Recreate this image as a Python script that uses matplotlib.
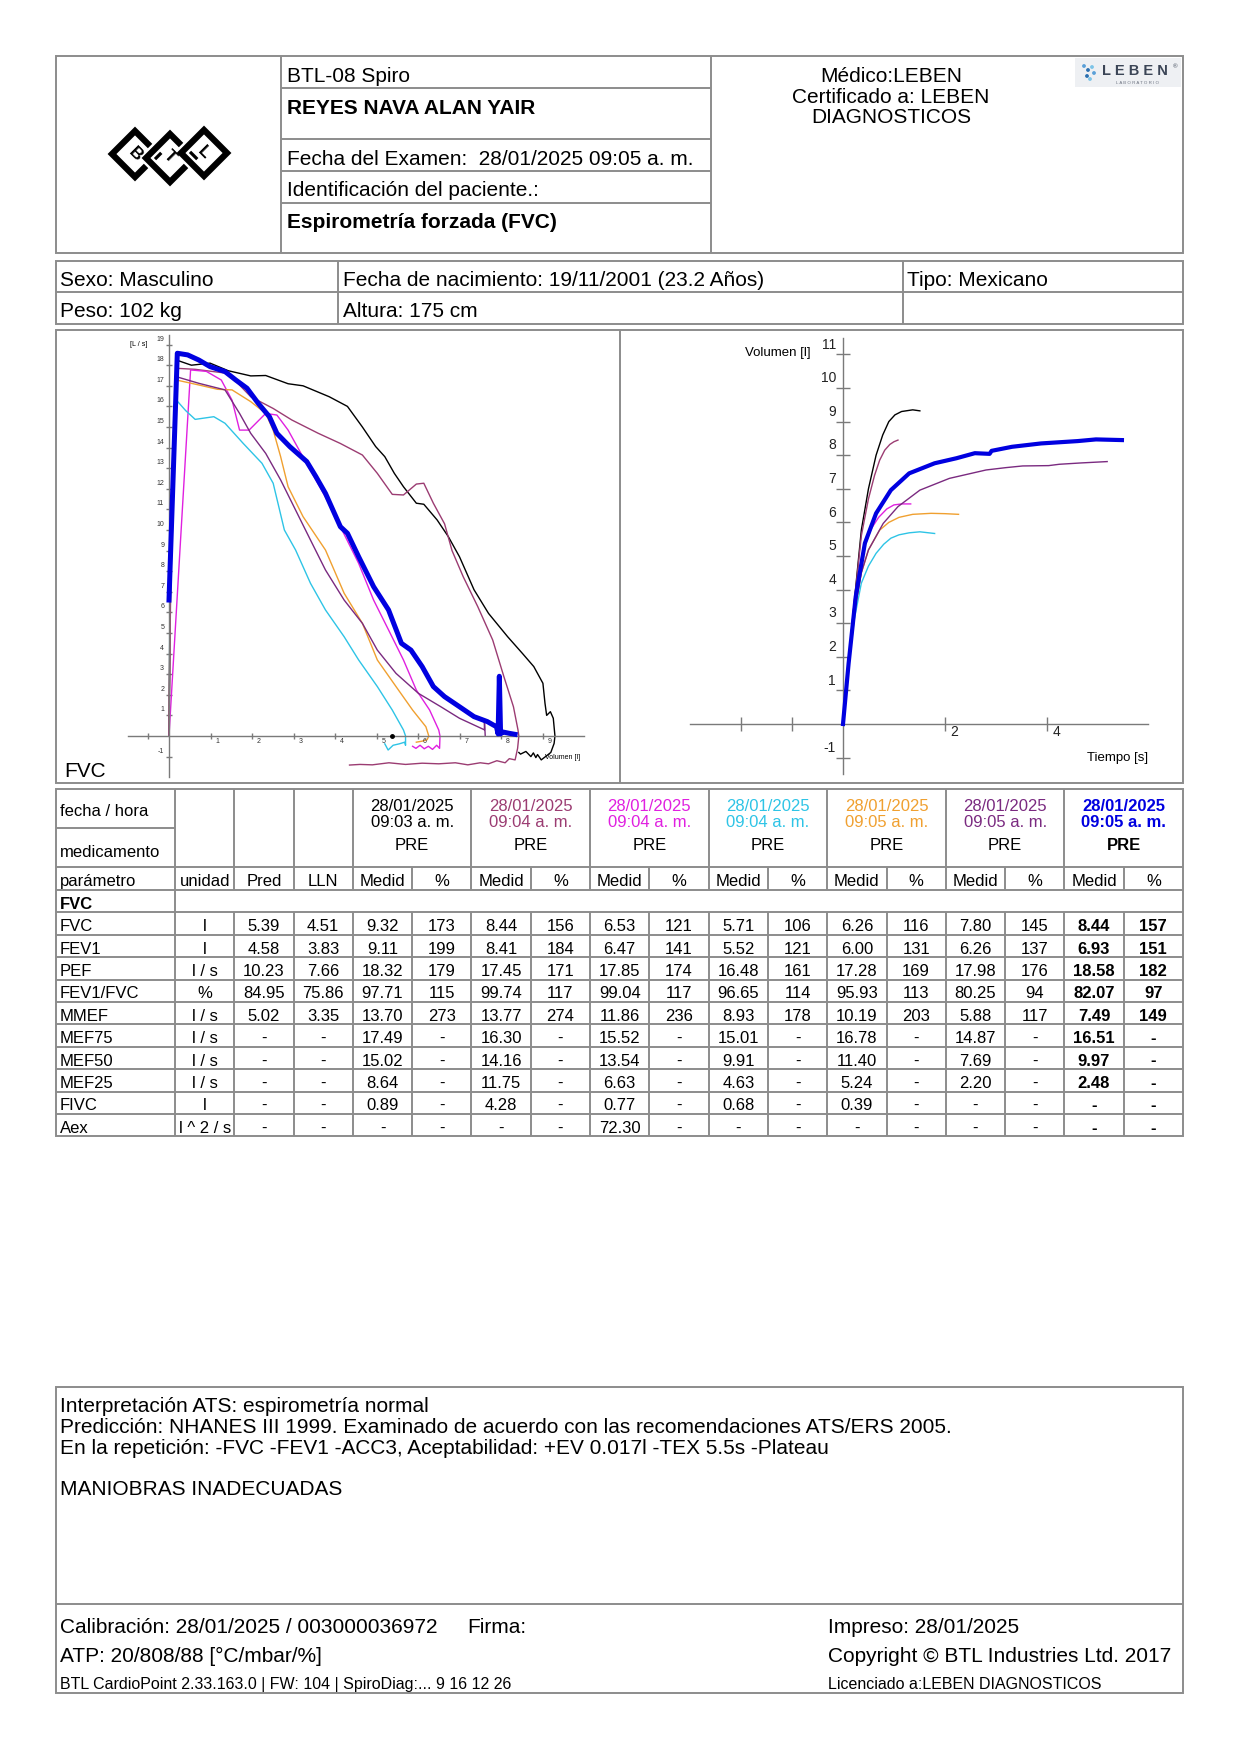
import matplotlib
matplotlib.use("Agg")
import matplotlib.pyplot as plt
from matplotlib.patches import Polygon, Rectangle

plt.rcParams['font.family'] = ['Liberation Sans', 'DejaVu Sans']

# ---------------- data ----------------
TRIAL_TIMES = ['09:03 a. m.', '09:04 a. m.', '09:04 a. m.', '09:04 a. m.',
               '09:05 a. m.', '09:05 a. m.', '09:05 a. m.']
TRIAL_COLORS = ['#000000', '#9b3c72', '#e020e0', '#2ec4e6', '#f0a030', '#7a2a80', '#0000e0']

PARAMS = ['FVC', 'FEV1', 'PEF', 'FEV1/FVC', 'MMEF', 'MEF75', 'MEF50', 'MEF25', 'FIVC', 'Aex']
UNITS = ['l', 'l', 'l / s', '%', 'l / s', 'l / s', 'l / s', 'l / s', 'l', 'l ^ 2 / s']
PRED = ['5.39', '4.58', '10.23', '84.95', '5.02', '-', '-', '-', '-', '-']
LLN = ['4.51', '3.83', '7.66', '75.86', '3.35', '-', '-', '-', '-', '-']

MEAS = [
    ['9.32', '9.11', '18.32', '97.71', '13.70', '17.49', '15.02', '8.64', '0.89', '-'],
    ['8.44', '8.41', '17.45', '99.74', '13.77', '16.30', '14.16', '11.75', '4.28', '-'],
    ['6.53', '6.47', '17.85', '99.04', '11.86', '15.52', '13.54', '6.63', '0.77', '72.30'],
    ['5.71', '5.52', '16.48', '96.65', '8.93', '15.01', '9.91', '4.63', '0.68', '-'],
    ['6.26', '6.00', '17.28', '95.93', '10.19', '16.78', '11.40', '5.24', '0.39', '-'],
    ['7.80', '6.26', '17.98', '80.25', '5.88', '14.87', '7.69', '2.20', '-', '-'],
    ['8.44', '6.93', '18.58', '82.07', '7.49', '16.51', '9.97', '2.48', '-', '-'],
]
PCT = [
    ['173', '199', '179', '115', '273', '-', '-', '-', '-', '-'],
    ['156', '184', '171', '117', '274', '-', '-', '-', '-', '-'],
    ['121', '141', '174', '117', '236', '-', '-', '-', '-', '-'],
    ['106', '121', '161', '114', '178', '-', '-', '-', '-', '-'],
    ['116', '131', '169', '113', '203', '-', '-', '-', '-', '-'],
    ['145', '137', '176', '94', '117', '-', '-', '-', '-', '-'],
    ['157', '151', '182', '97', '149', '-', '-', '-', '-', '-'],
]

# flow-volume loops: volume [l], flow [l/s]
FV_VOL = [
    [0, 0.05, 0.18, 0.54, 0.99, 1.43, 1.97, 2.33, 2.87, 3.23, 3.86, 4.30, 4.66, 4.98, 5.20, 5.43,
     5.65, 5.96, 6.14, 6.46, 6.73, 7.00, 7.35, 7.70, 8.16, 8.52, 8.79, 9.01, 9.06, 9.10, 9.19, 9.26,
     9.30, 9.28, 9.20, 8.97, 8.88, 8.84, 8.78, 8.72, 8.60, 8.47, 8.43],
    [0, 0.05, 0.18, 0.63, 1.43, 1.97, 2.51, 2.96, 3.59, 4.13, 4.66, 5.02, 5.38, 5.65, 5.96, 6.14,
     6.37, 6.64, 6.82, 7.09, 7.44, 7.80, 8.07, 8.30, 8.41, 8.43, 8.40, 8.34, 8.20, 8.10, 7.90, 7.70,
     7.50, 7.20, 6.90, 6.50, 6.10, 5.70, 5.30, 4.90, 4.60, 4.35],
    [0, 0.52, 0.90, 1.26, 1.52, 1.70, 1.93, 2.33, 2.60, 2.87, 3.18, 3.41, 3.77, 4.13, 4.57, 4.93,
     5.29, 5.65, 5.96, 6.28, 6.50, 6.53, 6.52, 6.45, 6.35, 6.25, 6.15, 6.05, 5.95, 5.87],
    [0, 0.02, 0.18, 0.40, 0.63, 1.08, 1.35, 1.79, 2.24, 2.51, 2.78, 3.05, 3.41, 3.77, 4.22, 4.57,
     5.02, 5.38, 5.65, 5.70, 5.70, 5.68, 5.55, 5.40, 5.28, 5.20],
    [0, 0.03, 0.18, 0.72, 1.17, 1.52, 1.97, 2.33, 2.51, 2.69, 2.87, 3.23, 3.77, 4.22, 4.66, 5.02,
     5.47, 5.87, 6.19, 6.26, 6.22, 6.10, 5.96],
    [0, 0.03, 0.18, 0.72, 1.35, 1.70, 1.97, 2.33, 2.69, 3.05, 3.41, 3.77, 4.22, 4.66, 5.02, 5.47,
     6.01, 6.55, 7.00, 7.44, 7.60, 7.60, 7.62],
    [0, 0.20, 0.45, 0.72, 0.99, 1.35, 1.61, 1.88, 2.15, 2.42, 2.60, 2.91, 3.32, 3.54, 3.77, 4.13,
     4.30, 4.57, 4.93, 5.29, 5.60, 5.83, 6.10, 6.37, 6.64, 7.00, 7.35, 7.67, 7.89, 7.93, 7.96, 7.99,
     8.03, 8.20, 8.34],
]
FV_FLOW = [
    [0, 10.0, 18.25, 18.0, 18.1, 17.73, 17.48, 17.5, 17.1, 17.0, 16.47, 16.0, 15.0, 14.05, 13.56, 12.75,
     12.1, 11.3, 11.25, 10.49, 9.68, 8.7, 7.1, 5.95, 4.82, 4.0, 3.37, 2.56, 1.59, 1.0, 1.18, 0.86,
     0.0, -0.36, -0.8, -1.16, -0.9, -1.05, -0.82, -1.0, -0.75, -0.88, -0.8],
    [0, 9.0, 17.85, 17.8, 17.6, 16.47, 15.9, 15.34, 14.7, 14.2, 13.64, 12.75, 11.73, 11.7, 12.23, 12.27,
     11.3, 10.3, 9.0, 7.73, 6.28, 4.66, 2.88, 1.42, 0.29, 0.0, -0.6, -1.16, -1.1, -1.3, -1.2, -1.35,
     -1.3, -1.4, -1.3, -1.35, -1.32, -1.38, -1.3, -1.4, -1.38, -1.41],
    [0, 17.77, 17.7, 17.28, 16.3, 14.85, 14.85, 15.66, 15.58, 14.85, 13.72, 12.9, 11.6, 10.16, 8.38, 6.6,
     5.15, 3.69, 2.23, 1.26, 0.29, 0.0, -0.6, -0.45, -0.65, -0.5, -0.62, -0.45, -0.6, -0.5],
    [0, 6.0, 16.3, 15.8, 15.37, 15.5, 15.18, 14.2, 13.24, 12.27, 10.0, 9.03, 7.41, 6.12, 4.82, 3.69,
     2.4, 1.26, 0.29, 0.0, -0.45, -0.3, -0.38, -0.45, -0.68, -0.38],
    [0, 8.0, 17.28, 17.04, 16.83, 16.8, 16.23, 15.66, 14.85, 13.56, 12.1, 10.65, 9.03, 6.93, 5.47, 3.69,
     2.4, 1.26, 0.45, 0.0, -0.18, -0.25, -0.3],
    [0, 8.0, 17.44, 17.12, 16.8, 15.66, 14.69, 13.72, 12.43, 10.97, 9.51, 8.06, 6.6, 5.47, 4.17, 3.04,
     2.07, 1.42, 0.86, 0.45, 0.3, 0.8, 0.0],
    [6.6, 18.58, 18.5, 18.25, 17.93, 17.69, 17.28, 16.88, 16.15, 15.5, 14.69, 14.05, 13.32, 12.59, 11.78, 10.16,
     9.84, 8.7, 7.25, 6.12, 4.5, 4.17, 3.37, 2.4, 1.91, 1.42, 0.94, 0.7, 0.45, 0.1, 2.9, 0.1,
     0.2, 0.13, 0.08],
]
FV_MARK_VOL = 5.38

# volume-time curves: time [s], volume [l]
VT_TIME = [
    [0, 0.10, 0.20, 0.36, 0.50, 0.65, 0.78, 0.90, 1.02, 1.15, 1.37, 1.51],
    [0, 0.10, 0.20, 0.36, 0.50, 0.62, 0.72, 0.82, 0.92, 1.00, 1.08],
    [0, 0.10, 0.20, 0.30, 0.43, 0.55, 0.70, 0.86, 1.00, 1.15, 1.33],
    [0, 0.10, 0.22, 0.36, 0.50, 0.65, 0.80, 0.94, 1.10, 1.30, 1.51, 1.80],
    [0, 0.10, 0.22, 0.36, 0.50, 0.72, 0.90, 1.10, 1.37, 1.73, 2.00, 2.27],
    [0, 0.10, 0.22, 0.36, 0.50, 0.79, 1.08, 1.51, 2.09, 2.81, 3.20, 3.53, 4.04, 4.25, 4.68, 5.19],
    [0, 0.11, 0.25, 0.43, 0.65, 0.94, 1.30, 1.80, 2.23, 2.59, 2.88, 2.92, 3.32, 3.89, 4.61, 4.97, 5.48],
]
VT_VOL = [
    [0, 1.7, 3.3, 5.77, 7.0, 8.0, 8.6, 9.0, 9.2, 9.3, 9.35, 9.32],
    [0, 1.7, 3.3, 5.6, 6.7, 7.4, 7.85, 8.15, 8.32, 8.4, 8.45],
    [0, 1.7, 3.1, 4.3, 5.3, 5.8, 6.15, 6.4, 6.52, 6.55, 6.55],
    [0, 1.6, 3.1, 4.19, 4.7, 5.08, 5.35, 5.53, 5.63, 5.69, 5.72, 5.67],
    [0, 1.7, 3.3, 4.5, 5.18, 5.77, 6.0, 6.15, 6.24, 6.27, 6.26, 6.24],
    [0, 1.7, 3.3, 4.5, 5.18, 5.97, 6.47, 6.96, 7.31, 7.56, 7.63, 7.68, 7.69, 7.73, 7.77, 7.81],
    [0, 1.8, 3.79, 5.38, 6.27, 6.96, 7.46, 7.76, 7.91, 8.06, 8.04, 8.13, 8.25, 8.35, 8.42, 8.47, 8.45],
]

# ---------------- page ----------------
W, H = 1240, 1755
LINE = '#8c8c8c'
AXC = '#7a7a7a'
FS = 15
TFS = 12

fig = plt.figure(figsize=(W / 100, H / 100), dpi=100)
page = fig.add_axes([0, 0, 1, 1])
page.set_xlim(0, W)
page.set_ylim(H, 0)
page.axis('off')


def box(x0, y0, x1, y1):
    page.add_patch(Rectangle((x0, y0), x1 - x0, y1 - y0, fill=False, ec=LINE, lw=1.4))


def hl(x0, x1, y):
    page.plot([x0, x1], [y, y], color=LINE, lw=1.4, solid_capstyle='butt')


def vl(x, y0, y1):
    page.plot([x, x], [y0, y1], color=LINE, lw=1.4, solid_capstyle='butt')


def txt(x, y, s, size=FS, dy=1.5, **kw):
    page.text(x, y + dy, s, fontsize=size, va='center', **kw)


L, R = 56, 1183

# header block
box(L, 56, R, 253)
vl(281, 56, 253)
vl(711, 56, 253)
for y in (88, 139, 171, 203):
    hl(281, 711, y)
txt(287, 75, 'BTL-08 Spiro')
txt(287, 107, 'REYES NAVA ALAN YAIR', weight='bold')
txt(287, 158, 'Fecha del Examen:  28/01/2025 09:05 a. m.')
txt(287, 189, 'Identificación del paciente.:')
txt(287, 221, 'Espirometría forzada (FVC)', weight='bold')
txt(891, 75, 'Médico:LEBEN', ha='center')
txt(891, 96, 'Certificado a: LEBEN', ha='center')
txt(891, 116, 'DIAGNOSTICOS', ha='center')

# BTL logo (interlaced diamonds)
for cx, cy, r in ((135, 154, 23), (170, 158, 24), (204, 153, 23)):
    corners = [(cx - r, cy), (cx, cy - r), (cx + r, cy), (cx, cy + r)]
    page.add_patch(Polygon(corners, closed=True, fill=False, ec='white', lw=8, joinstyle='miter'))
    page.add_patch(Polygon(corners, closed=True, fill=False, ec='black', lw=4.5, joinstyle='miter'))
for cx, cy, ch in ((135, 154, 'B'), (170, 157, 'T'), (204, 153, 'L')):
    page.text(cx, cy, ch, fontsize=12.5, weight='bold', ha='center', va='center', rotation=-45)

# LEBEN logo
page.add_patch(Rectangle((1075, 58), 106, 29, fc='#eef0f3', ec='none'))
page.text(1135, 71, 'L E B E N', fontsize=10.5, weight='bold', color='#3b4556', ha='center', va='center')
page.text(1175, 67, '®', fontsize=4.5, color='#3b4556', ha='center', va='center')
page.text(1137, 83, 'L A B O R A T O R I O', fontsize=3.2, color='#6b7280', ha='center', va='center')
page.scatter([1084, 1088, 1092, 1087, 1094, 1090], [66, 70, 67, 76, 73, 79], s=3,
             color=['#5aa0d8', '#2a6fb0', '#7cc4e8', '#2a6fb0', '#5aa0d8', '#7cc4e8'], zorder=3)

# patient block
box(L, 261, R, 324)
hl(L, R, 292)
vl(338, 261, 324)
vl(903, 261, 324)
txt(60, 279, 'Sexo: Masculino')
txt(343, 279, 'Fecha de nacimiento: 19/11/2001 (23.2 Años)')
txt(907, 279, 'Tipo: Mexicano')
txt(60, 310, 'Peso: 102 kg')
txt(343, 310, 'Altura: 175 cm')

# chart block
box(L, 330, R, 783)
vl(620, 330, 783)


def chart_axes(px0, px1, py0, py1, ox, oy, sx, sy):
    ax = fig.add_axes([px0 / W, 1 - py1 / H, (px1 - px0) / W, (py1 - py0) / H])
    ax.set_xlim((px0 - ox) / sx, (px1 - ox) / sx)
    ax.set_ylim((oy - py1) / sy, (oy - py0) / sy)
    ax.patch.set_alpha(0)
    for s in ('top', 'right'):
        ax.spines[s].set_visible(False)
    ax.spines['left'].set_position(('data', 0))
    ax.spines['bottom'].set_position(('data', 0))
    for s in ('left', 'bottom'):
        ax.spines[s].set_color(AXC)
        ax.spines[s].set_linewidth(1.0)
    ax.tick_params(direction='inout', color=AXC, width=1.0,
                   labelbottom=False, labelleft=False)
    return ax


# flow-volume
ax1 = chart_axes(58, 618, 332, 781, 169, 736, 41.5, 20.6)
ax1.spines['left'].set_bounds(-1.97, 19.47)
ax1.spines['bottom'].set_bounds(-1.0, 10.0)
fv_yt = [-1] + list(range(1, 20))
fv_xt = list(range(1, 10))
ax1.set_yticks(fv_yt)
ax1.set_xticks([-0.5] + fv_xt)
ax1.tick_params(length=5)
for v in fv_yt:
    ax1.annotate(str(v), (0, v), xytext=(-3.5, 4), textcoords='offset points',
                 ha='right', va='center', fontsize=5, color='#333333')
for v in fv_xt:
    ax1.annotate(str(v), (v, 0), xytext=(5, -4), textcoords='offset points',
                 ha='center', va='center', fontsize=5, color='#333333')
for i in range(7):
    lw = 3.6 if i == 6 else 1.0
    ax1.plot(FV_VOL[i], FV_FLOW[i], color=TRIAL_COLORS[i], lw=lw, clip_on=False,
             zorder=3 if i == 6 else 2)
ax1.plot([FV_MARK_VOL], [0], 'o', color='black', ms=2.5, zorder=4)
txt(139, 343, '[L / s]', size=5, ha='center')
txt(545, 756, 'Volumen [l]', size=5)
txt(64, 770, 'FVC')

# volume-time
ax2 = chart_axes(622, 1181, 332, 781, 843, 724, 50.9, 33.6)
ax2.spines['left'].set_bounds(-1.5, 11.5)
ax2.spines['bottom'].set_bounds(-3.0, 6.0)
vt_yt = [-1] + list(range(1, 12))
vt_xt = [2, 4]
ax2.set_yticks(vt_yt)
ax2.set_xticks([-2, -1] + vt_xt)
ax2.tick_params(length=9.5)
for v in vt_yt:
    ax2.annotate(str(v), (0, v), xytext=(-5, 7), textcoords='offset points',
                 ha='right', va='center', fontsize=10, color='#222222')
for v in vt_xt:
    ax2.annotate(str(v), (v, 0), xytext=(7, -6), textcoords='offset points',
                 ha='center', va='center', fontsize=10, color='#222222')
for i in range(7):
    lw = 3.0 if i == 6 else 1.0
    ax2.plot(VT_TIME[i], VT_VOL[i], color=TRIAL_COLORS[i], lw=lw, clip_on=False,
             zorder=3 if i == 6 else 2)
txt(811, 351, 'Volumen [l]', size=9.5, ha='right')
txt(1148, 756, 'Tiempo [s]', size=9.5, ha='right')

# ---------------- results table ----------------
T_TOP, T_SPLIT, T_HEAD, T_PAR = 789, 828, 867, 890
ROW_H = 22.4
C0 = 175
CW = (R - C0) / 17
edges = [L, C0] + [C0 + CW * k for k in range(1, 18)]
n_rows = len(PARAMS) + 1
T_BOT = T_PAR + ROW_H * n_rows

box(L, T_TOP, R, T_BOT)
hl(L, C0, T_SPLIT)
hl(L, R, T_HEAD)
for k in range(n_rows):
    hl(L, R, T_PAR + ROW_H * k)
vl(C0, T_TOP, T_BOT)
sec_top, sec_bot = T_PAR, T_PAR + ROW_H
for k in range(2, 18):
    x = edges[k]
    top = T_TOP if k <= 4 or k % 2 == 0 else T_HEAD
    vl(x, top, sec_top)
    vl(x, sec_bot, T_BOT)

TDY = 3


def cell(k, y, s, **kw):
    txt((edges[k] + edges[k + 1]) / 2, y, s, size=TFS, dy=TDY, ha='center', **kw)


txt(60, (T_TOP + T_SPLIT) / 2, 'fecha / hora', size=TFS, dy=TDY)
txt(60, (T_SPLIT + T_HEAD) / 2 + 2, 'medicamento', size=TFS, dy=TDY)
py = (T_HEAD + T_PAR) / 2
txt(60, py, 'parámetro', size=TFS, dy=TDY)
cell(1, py, 'unidad')
cell(2, py, 'Pred')
cell(3, py, 'LLN')
for i in range(7):
    k = 4 + 2 * i
    xc = edges[k + 1]
    w = 'bold' if i == 6 else 'normal'
    col = TRIAL_COLORS[i]
    txt(xc, 803, '28/01/2025', size=TFS, dy=TDY, ha='center', color=col, weight=w)
    txt(xc, 819, TRIAL_TIMES[i], size=TFS, dy=TDY, ha='center', color=col, weight=w)
    txt(xc, 842, 'PRE', size=TFS, dy=TDY, ha='center', color='black', weight=w)
    cell(k, py, 'Medid')
    cell(k + 1, py, '%')
txt(60, (sec_top + sec_bot) / 2, 'FVC', size=TFS, dy=TDY, weight='bold')
for r, name in enumerate(PARAMS):
    y = T_PAR + ROW_H * (r + 1.5)
    txt(60, y, name, size=TFS, dy=TDY)
    cell(1, y, UNITS[r])
    cell(2, y, PRED[r])
    cell(3, y, LLN[r])
    for i in range(7):
        w = 'bold' if i == 6 else 'normal'
        cell(4 + 2 * i, y, MEAS[i][r], weight=w)
        cell(5 + 2 * i, y, PCT[i][r], weight=w)

# ---------------- interpretation & footer ----------------
box(L, 1387, R, 1693)
hl(L, R, 1604)
txt(60, 1405, 'Interpretación ATS: espirometría normal')
txt(60, 1426, 'Predicción: NHANES III 1999. Examinado de acuerdo con las recomendaciones ATS/ERS 2005.')
txt(60, 1447, 'En la repetición: -FVC -FEV1 -ACC3, Aceptabilidad: +EV 0.017l -TEX 5.5s -Plateau')
txt(60, 1488, 'MANIOBRAS INADECUADAS')
txt(60, 1626, 'Calibración: 28/01/2025 / 003000036972')
txt(467, 1626, 'Firma:')
txt(60, 1655, 'ATP: 20/808/88 [°C/mbar/%]')
txt(60, 1683, 'BTL CardioPoint 2.33.163.0 | FW: 104 | SpiroDiag:... 9 16 12 26', size=11.5)
txt(828, 1626, 'Impreso: 28/01/2025')
txt(828, 1655, 'Copyright © BTL Industries Ltd. 2017')
txt(828, 1683, 'Licenciado a:LEBEN DIAGNOSTICOS', size=11.5)

fig.savefig('out.png', dpi=100)
